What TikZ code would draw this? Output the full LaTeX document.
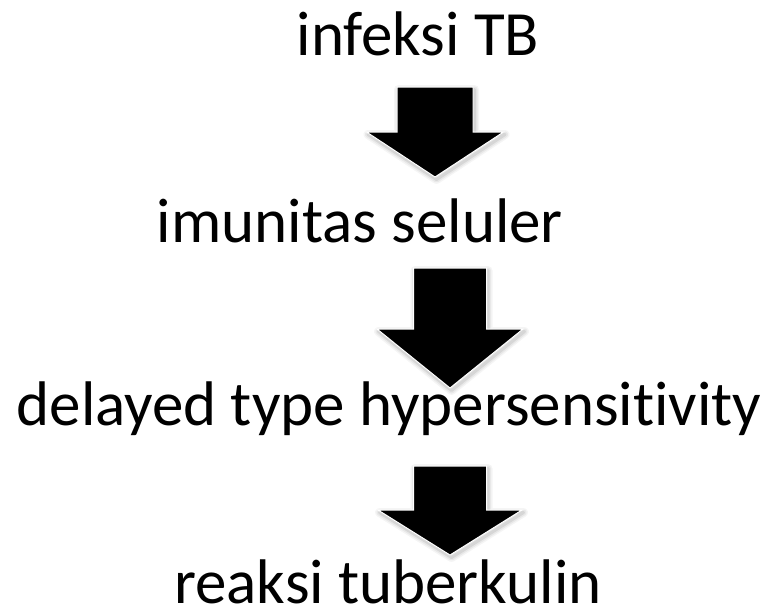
\documentclass[tikz,border=0pt]{standalone}
\usepackage{fontspec}
\setmainfont[Ligatures=NoCommon]{Carlito}
\usetikzlibrary{positioning}

% block arrow: centre x, top y, head base y, tip y, shaft half width, head half width
\newcommand{\blockarrow}[6]{%
  \foreach \w/\c in {9/black!4, 6/black!9, 3/black!16}
    \draw[line width=\w pt, \c, line join=round, xshift=1.5pt, yshift=-2.5pt]
      ({#1-#5},#2) -- ({#1+#5},#2) -- ({#1+#5},#3) -- ({#1+#6},#3) -- (#1,#4)
      -- ({#1-#6},#3) -- ({#1-#5},#3) -- cycle;
  \fill[black, draw=white, line width=1pt, line join=miter]
      ({#1-#5},#2) -- ({#1+#5},#2) -- ({#1+#5},#3) -- ({#1+#6},#3) -- (#1,#4)
      -- ({#1-#6},#3) -- ({#1-#5},#3) -- cycle;
}

\begin{document}
\begin{tikzpicture}[
  x=1pt, y=-1pt,
  steptext/.style={
    font=\fontsize{63}{75}\selectfont, anchor=base,
    inner sep=0pt, text=black
  },
]
\useasboundingbox (0,0) rectangle (773,613);

% ---- steps ----
\node[steptext] (infeksi)  at (418,55)  {infeksi TB};
\node[steptext] (imunitas) at (360,242) {imunitas seluler};
\node[steptext] (dth)      at (389,425) {delayed type hypersensitivity};
\node[steptext] (reaksi)   at (388,603) {reaksi tuberkulin};

% ---- block arrows ----
\blockarrow{435}{87}{132}{177}{38}{68.5}
\blockarrow{450}{268}{329}{388}{36.5}{73}
\blockarrow{450}{466}{510}{555}{36.5}{72}

\end{tikzpicture}
\end{document}
